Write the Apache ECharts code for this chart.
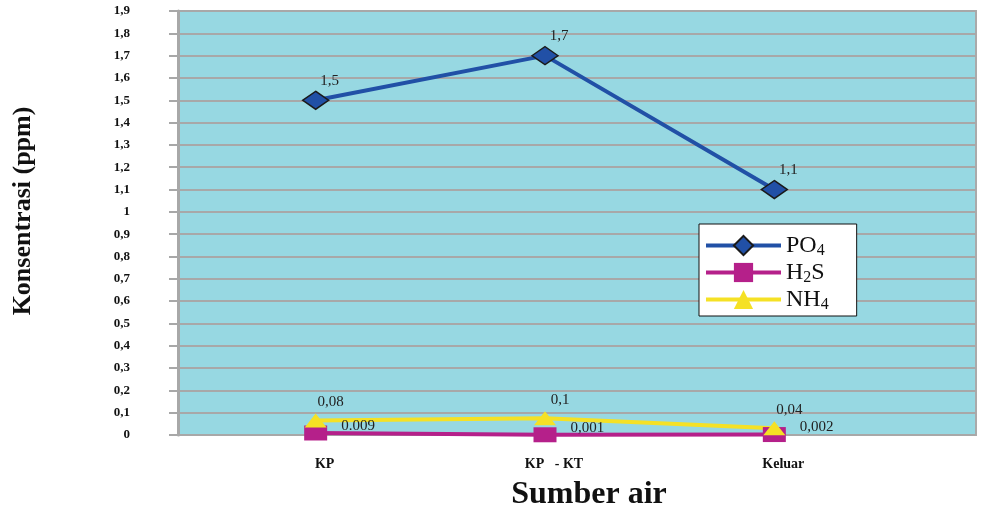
<!DOCTYPE html>
<html>
<head>
<meta charset="utf-8">
<script src="https://cdn.jsdelivr.net/npm/echarts@6/dist/echarts.min.js"></script>
<style>html,body{margin:0;padding:0;background:#fff;}#c{width:981px;height:506px;}</style>
</head>
<body>
<div id="c"></div>
<script>
var categories = ['KP', 'KP   - KT', 'Keluar'];
var po4 = [1.5, 1.7, 1.1];
var h2s = [0.009, 0.001, 0.002];
var nh4 = [0.065, 0.075, 0.03];
var po4Labels = ['1,5', '1,7', '1,1'];
var h2sLabels = ['0.009', '0,001', '0,002'];
var nh4Labels = ['0,08', '0,1', '0,04'];
var yMin = 0, yMax = 1.9, yStep = 0.1;

var serif = '"Liberation Serif", "DejaVu Serif", serif';
var chart = echarts.init(document.getElementById('c'));

function fmtY(v) { return String(Math.round(v * 10) / 10).replace('.', ','); }
function sub(main, s, rest) { return '{a|' + main + '}{b|' + s + '}' + (rest ? '{a|' + rest + '}' : ''); }
var legendText = {
  'PO4': sub('PO', '4'),
  'H2S': sub('H', '2', 'S'),
  'NH4': sub('NH', '4')
};

chart.setOption({
  animation: false,
  backgroundColor: '#ffffff',
  grid: [
    { left: 178, right: 5, top: 11, height: 424, show: true, backgroundColor: '#97D8E2', borderColor: '#AAAAAA', borderWidth: 2, outerBoundsMode: 'none', containLabel: false },
    { left: 201, right: 92, top: 11, height: 424, outerBoundsMode: 'none', containLabel: false }
  ],
  xAxis: [
    { type: 'value', gridIndex: 0, min: 0, max: 1, show: true,
      axisLine: { show: false }, axisTick: { show: false }, axisLabel: { show: false }, splitLine: { show: false },
      name: 'Sumber air', nameLocation: 'middle', nameGap: 44,
      nameTextStyle: { fontFamily: serif, fontWeight: 'bold', fontSize: 32, color: '#111', padding: [0, 0, 0, 24] } },
    { type: 'category', gridIndex: 1, data: categories, boundaryGap: true,
      axisLine: { show: false }, axisTick: { show: false }, splitLine: { show: false },
      axisLabel: { fontFamily: serif, fontWeight: 'bold', fontSize: 14, color: '#111', margin: 22, padding: [0, 0, 0, 18] } }
  ],
  yAxis: [
    { type: 'value', gridIndex: 0, min: yMin, max: yMax, interval: yStep,
      axisLine: { show: true, lineStyle: { color: '#A8A8A8', width: 3 } },
      axisTick: { show: true, length: 9, lineStyle: { color: '#A8A8A8', width: 2 } },
      splitLine: { show: true, lineStyle: { color: '#A8A8A8', width: 2 } },
      axisLabel: { formatter: fmtY, fontFamily: serif, fontWeight: 'bold', fontSize: 13, lineHeight: 13, color: '#111', margin: 48, padding: [6, 0, 0, 0] },
      name: 'Konsentrasi (ppm)', nameLocation: 'middle', nameGap: 142,
      nameTextStyle: { fontFamily: serif, fontWeight: 'bold', fontSize: 26, color: '#111', padding: [0, 0, 0, 24] } },
    { type: 'value', gridIndex: 1, min: yMin, max: yMax, interval: yStep, show: false }
  ],
  legend: {
    orient: 'vertical', left: 699, top: 224,
    data: ['PO4', 'H2S', 'NH4'],
    backgroundColor: '#ffffff', borderColor: '#111', borderWidth: 1,
    padding: [8, 28, 3, 5], itemGap: 0, itemWidth: 75, itemHeight: 24,
    lineStyle: { width: 4 },
    formatter: function (n) { return legendText[n]; },
    textStyle: {
      color: '#111',
      rich: {
        a: { fontFamily: serif, fontSize: 24, lineHeight: 25, color: '#111' },
        b: { fontFamily: serif, fontSize: 16, lineHeight: 14, padding: [11, 0, 0, 0], color: '#111' }
      }
    }
  },
  series: [
    { name: 'PO4', type: 'line', xAxisIndex: 1, yAxisIndex: 1, data: po4,
      symbol: 'diamond', symbolSize: [26, 18],
      lineStyle: { color: '#2150A6', width: 4 },
      itemStyle: { color: '#2150A6', borderColor: '#1a1a1a', borderWidth: 1.5 },
      label: { show: true, position: 'top', distance: 2, offset: [14, 0],
        formatter: function (p) { return po4Labels[p.dataIndex]; },
        fontFamily: serif, fontSize: 15, color: '#222' } },
    { name: 'H2S', type: 'line', xAxisIndex: 1, yAxisIndex: 1, data: h2s,
      symbol: 'rect', symbolSize: [23, 15],
      lineStyle: { color: '#B5208A', width: 4 },
      itemStyle: { color: '#B5208A', borderWidth: 0 },
      label: { show: true, position: 'right', distance: 14, offset: [0, -7],
        formatter: function (p) { return h2sLabels[p.dataIndex]; },
        fontFamily: serif, fontSize: 15, color: '#222' } },
    { name: 'NH4', type: 'line', xAxisIndex: 1, yAxisIndex: 1, data: nh4,
      symbol: 'triangle', symbolSize: [22, 14],
      lineStyle: { color: '#F5E125', width: 4 },
      itemStyle: { color: '#F5E125', borderWidth: 0 },
      label: { show: true, position: 'top', distance: 4, offset: [15, 0],
        formatter: function (p) { return nh4Labels[p.dataIndex]; },
        fontFamily: serif, fontSize: 15, color: '#222' } }
  ]
});
</script>
</body>
</html>
